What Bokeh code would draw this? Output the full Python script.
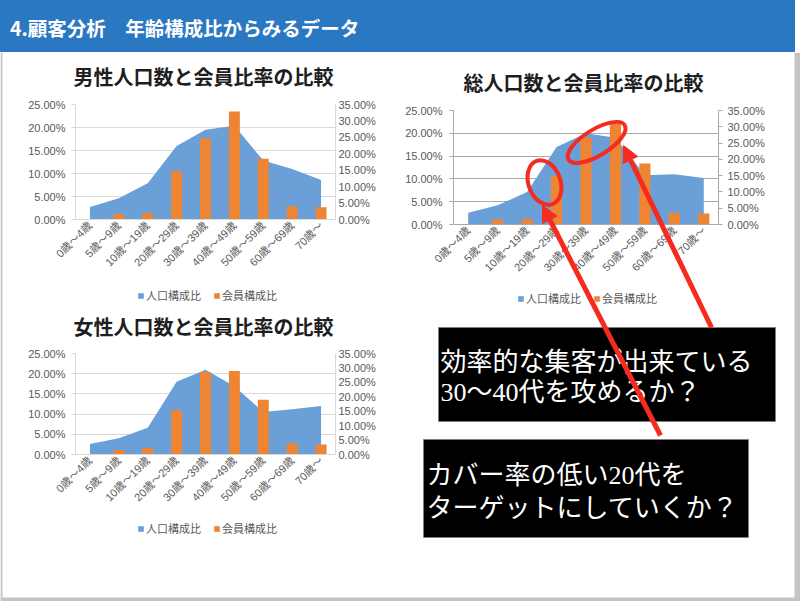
import math
from bokeh.plotting import figure
from bokeh.models import (Range1d, LinearAxis, FixedTicker, NumeralTickFormatter, Legend,
                          LegendItem, ColumnDataSource, Label, Arrow, BoxAnnotation,
                          NormalHead, Div, FactorRange)
from bokeh.transform import dodge
from bokeh.layouts import column, row
from bokeh.embed import file_html
from bokeh.resources import INLINE

# ---------------- data ----------------
categories = ["0歳～4歳", "5歳～9歳", "10歳～19歳", "20歳～29歳", "30歳～39歳",
              "40歳～49歳", "50歳～59歳", "60歳～69歳", "70歳～"]

male_pop = [0.027, 0.046, 0.079, 0.160, 0.195, 0.204, 0.128, 0.110, 0.086]
male_mem = [0.0, 0.017, 0.020, 0.147, 0.247, 0.329, 0.185, 0.040, 0.037]

female_pop = [0.026, 0.040, 0.066, 0.180, 0.210, 0.169, 0.105, 0.112, 0.120]
female_mem = [0.0, 0.016, 0.022, 0.153, 0.286, 0.289, 0.190, 0.039, 0.035]

total_pop = [0.026, 0.042, 0.071, 0.170, 0.200, 0.190, 0.108, 0.110, 0.102]
total_mem = [0.0, 0.015, 0.017, 0.149, 0.266, 0.309, 0.187, 0.036, 0.034]

left_ticks = [0.0, 0.05, 0.10, 0.15, 0.20, 0.25]
right_ticks = [0.0, 0.05, 0.10, 0.15, 0.20, 0.25, 0.30, 0.35]
LEFT_MAX = 0.25
RIGHT_MAX = 0.35

series_names = ["人口構成比", "会員構成比"]

header_text = "4.顧客分析　年齢構成比からみるデータ"
title_male = "男性人口数と会員比率の比較"
title_female = "女性人口数と会員比率の比較"
title_total = "総人口数と会員比率の比較"

box1_lines = ["効率的な集客が出来ている", "30～40代を攻めるか？"]
box2_lines = ["カバー率の低い20代を", "ターゲットにしていくか？"]

# highlighted spots on the total chart: (category, offset, left-axis value)
highlight_1 = ("20歳～29歳", -0.41, 0.092)
highlight_2 = ("30歳～39歳", 0.36, 0.180)

# ---------------- styles ----------------
BLUE = "#6A9FD8"
ORANGE = "#EE8535"
RED = "#F42B1E"
TXT = "#595959"
FONT = "Liberation Sans, Noto Sans CJK JP"
SERIF = "Liberation Serif, Noto Sans CJK JP"


def style_axis(ax, color, tick_out, standoff, show_ticks=True):
    ax.axis_line_color = color
    ax.major_tick_line_color = color if show_ticks else None
    ax.major_tick_out = tick_out
    ax.major_tick_in = 0
    ax.minor_tick_line_color = None
    ax.major_label_standoff = standoff
    ax.major_label_text_font_size = "11px"
    ax.major_label_text_font = FONT
    ax.major_label_text_color = TXT


def make_chart(width, height, bl, br, bt, bb, pop, mem, grid_color,
               left_standoff, right_tick_out, right_standoff):
    src = ColumnDataSource(dict(cat=categories, pop=pop, mem=mem))
    p = figure(width=width, height=height, x_range=FactorRange(factors=categories),
               y_range=Range1d(0, LEFT_MAX), tools="", toolbar_location=None,
               output_backend="svg", min_border_left=bl, min_border_right=br,
               min_border_top=bt, min_border_bottom=bb)
    p.extra_y_ranges = {"r": Range1d(0, RIGHT_MAX)}
    p.outline_line_color = None

    p.varea(x="cat", y1=0, y2="pop", source=src, fill_color=BLUE)
    p.vbar(x="cat", top="mem", width=0.38, source=src, y_range_name="r",
           fill_color=ORANGE, line_color=None)

    ya = p.yaxis[0]
    ya.ticker = FixedTicker(ticks=left_ticks)
    ya.formatter = NumeralTickFormatter(format="0.00%")
    style_axis(ya, grid_color, 4, left_standoff)

    ra = LinearAxis(y_range_name="r", ticker=FixedTicker(ticks=right_ticks),
                    formatter=NumeralTickFormatter(format="0.00%"))
    style_axis(ra, grid_color, right_tick_out, right_standoff, show_ticks=right_tick_out > 0)
    p.add_layout(ra, "right")

    xa = p.xaxis[0]
    style_axis(xa, grid_color, 0, 4, show_ticks=False)
    xa.major_label_orientation = math.pi / 4

    p.xgrid.visible = False
    p.ygrid.ticker = FixedTicker(ticks=left_ticks)
    p.ygrid.grid_line_color = grid_color
    return p


def title_div(text, w, h, pad_top, pad_left=0, pad_right=0):
    html = (f'<div style="width:{w}px;height:{h}px;box-sizing:border-box;'
            f'padding-top:{pad_top}px;padding-left:{pad_left}px;padding-right:{pad_right}px;'
            f'text-align:center;font-family:\'Noto Sans CJK JP\',sans-serif;'
            f'font-weight:bold;font-size:20px;line-height:20px;color:#1e1e1e;'
            f'white-space:nowrap;">{text}</div>')
    return Div(text=html, width=w, height=h, margin=(0, 0, 0, 0))


header = Div(text=(f'<div style="width:795px;height:52px;box-sizing:border-box;'
                   f'background:#2B78C2;padding-left:10px;padding-top:8px;line-height:40px;'
                   f'font-family:\'Noto Sans CJK JP\',sans-serif;font-weight:bold;'
                   f'font-size:19.5px;color:white;white-space:nowrap;">{header_text}</div>'),
             width=795, height=52, margin=(0, 0, 0, 0))

male_fig = make_chart(395, 216, 75, 60, 10, 91, male_pop, male_mem, "#D9D9D9", 6, 0, 3)
female_fig = make_chart(395, 250, 75, 60, 10, 139, female_pop, female_mem, "#D9D9D9", 6, 0, 3)
total_fig = make_chart(400, 493, 58, 77, 10, 369, total_pop, total_mem, "#A9A9A9", 7, 4, 5)

# ellipses around highlighted spots of the total chart
for (cat, off, yv), (w, h, ang) in ((highlight_1, (32, 46, 0.35)),
                                    (highlight_2, (66, 26, 0.55))):
    s = ColumnDataSource(dict(cat=[cat], y=[yv]))
    total_fig.ellipse(x=dodge("cat", off, range=total_fig.x_range), y="y", source=s,
                      width=w, height=h, width_units="screen", height_units="screen",
                      angle=ang, fill_color=None, line_color=RED, line_width=4)

# ---------------- transparent overlay: legends, notes and arrows ----------------
OV_W, OV_H = 800, 549
overlay = figure(width=OV_W, height=OV_H, x_range=Range1d(0, 1), y_range=Range1d(0, 1),
                 tools="", toolbar_location=None, output_backend="svg",
                 x_axis_location=None, y_axis_location=None, min_border=0,
                 margin=(-541, 0, 0, 0))
overlay.outline_line_color = None
overlay.background_fill_color = None
overlay.border_fill_color = None
overlay.grid.visible = False

# legend swatches: hidden proxy renderers styled like the chart marks
proxy = ColumnDataSource(dict(x=[0], y=[0]))
sw_area = overlay.varea(x="x", y1="y", y2="y", source=proxy, fill_color=BLUE, visible=False)
sw_bar = overlay.vbar(x="x", top="y", width=0, source=proxy, fill_color=ORANGE,
                      line_color=None, visible=False)


def add_legend(loc):
    overlay.add_layout(Legend(items=[LegendItem(label=series_names[0], renderers=[sw_area]),
                                     LegendItem(label=series_names[1], renderers=[sw_bar])],
                              location=loc, orientation="horizontal",
                              glyph_width=7, glyph_height=7, label_height=12,
                              label_standoff=2, spacing=12, padding=0, margin=0,
                              label_text_font_size="11px", label_text_font=FONT,
                              label_text_color=TXT, border_line_color=None,
                              background_fill_alpha=0))


# legend positions: px from the overlay's bottom-left corner
add_legend((137, 298))   # male
add_legend((137, 65))    # female
add_legend((517, 295))   # total

# slide frame shadow
for l, r, t, b in ((0, 2, OV_H, 0), (794, 800, OV_H, 0), (0, 800, 4, 0)):
    overlay.add_layout(BoxAnnotation(left=l, right=r, top=t, bottom=b,
                                     left_units="screen", right_units="screen",
                                     top_units="screen", bottom_units="screen",
                                     fill_color="#C4C4C4", fill_alpha=1, line_color=None))

# note boxes
for l, r, t, b in ((438, 775, 274, 180), (423, 748, 162, 64)):
    overlay.add_layout(BoxAnnotation(left=l, right=r, top=t, bottom=b,
                                     left_units="screen", right_units="screen",
                                     top_units="screen", bottom_units="screen",
                                     fill_color="black", fill_alpha=1,
                                     line_color="#7F7F7F", line_width=1, line_alpha=1))

for txt, x, y in ((box1_lines[0], 440, 239), (box1_lines[1], 440, 209),
                  (box2_lines[0], 426, 126), (box2_lines[1], 426, 93)):
    overlay.add_layout(Label(x=x, y=y, x_units="screen", y_units="screen", text=txt,
                             text_color="white", text_font_size="26px", text_font=SERIF,
                             text_baseline="middle", text_align="left"))

for xs, ys, xe, ye in ((660, 166, 542, 396), (711, 274, 623, 456)):
    overlay.add_layout(Arrow(x_start=xs, y_start=ys, x_end=xe, y_end=ye,
                             start_units="screen", end_units="screen",
                             line_color=RED, line_width=5,
                             end=NormalHead(size=16, fill_color=RED, line_color=RED)))

left_col = column(title_div(title_male, 395, 42, 15, pad_left=12), male_fig,
                  title_div(title_female, 395, 33, 7, pad_left=12), female_fig)
right_col = column(title_div(title_total, 400, 48, 21, pad_right=23), total_fig)
layout = column(header, row(left_col, right_col), overlay)

open("out.html", "w").write(file_html(layout, INLINE))
